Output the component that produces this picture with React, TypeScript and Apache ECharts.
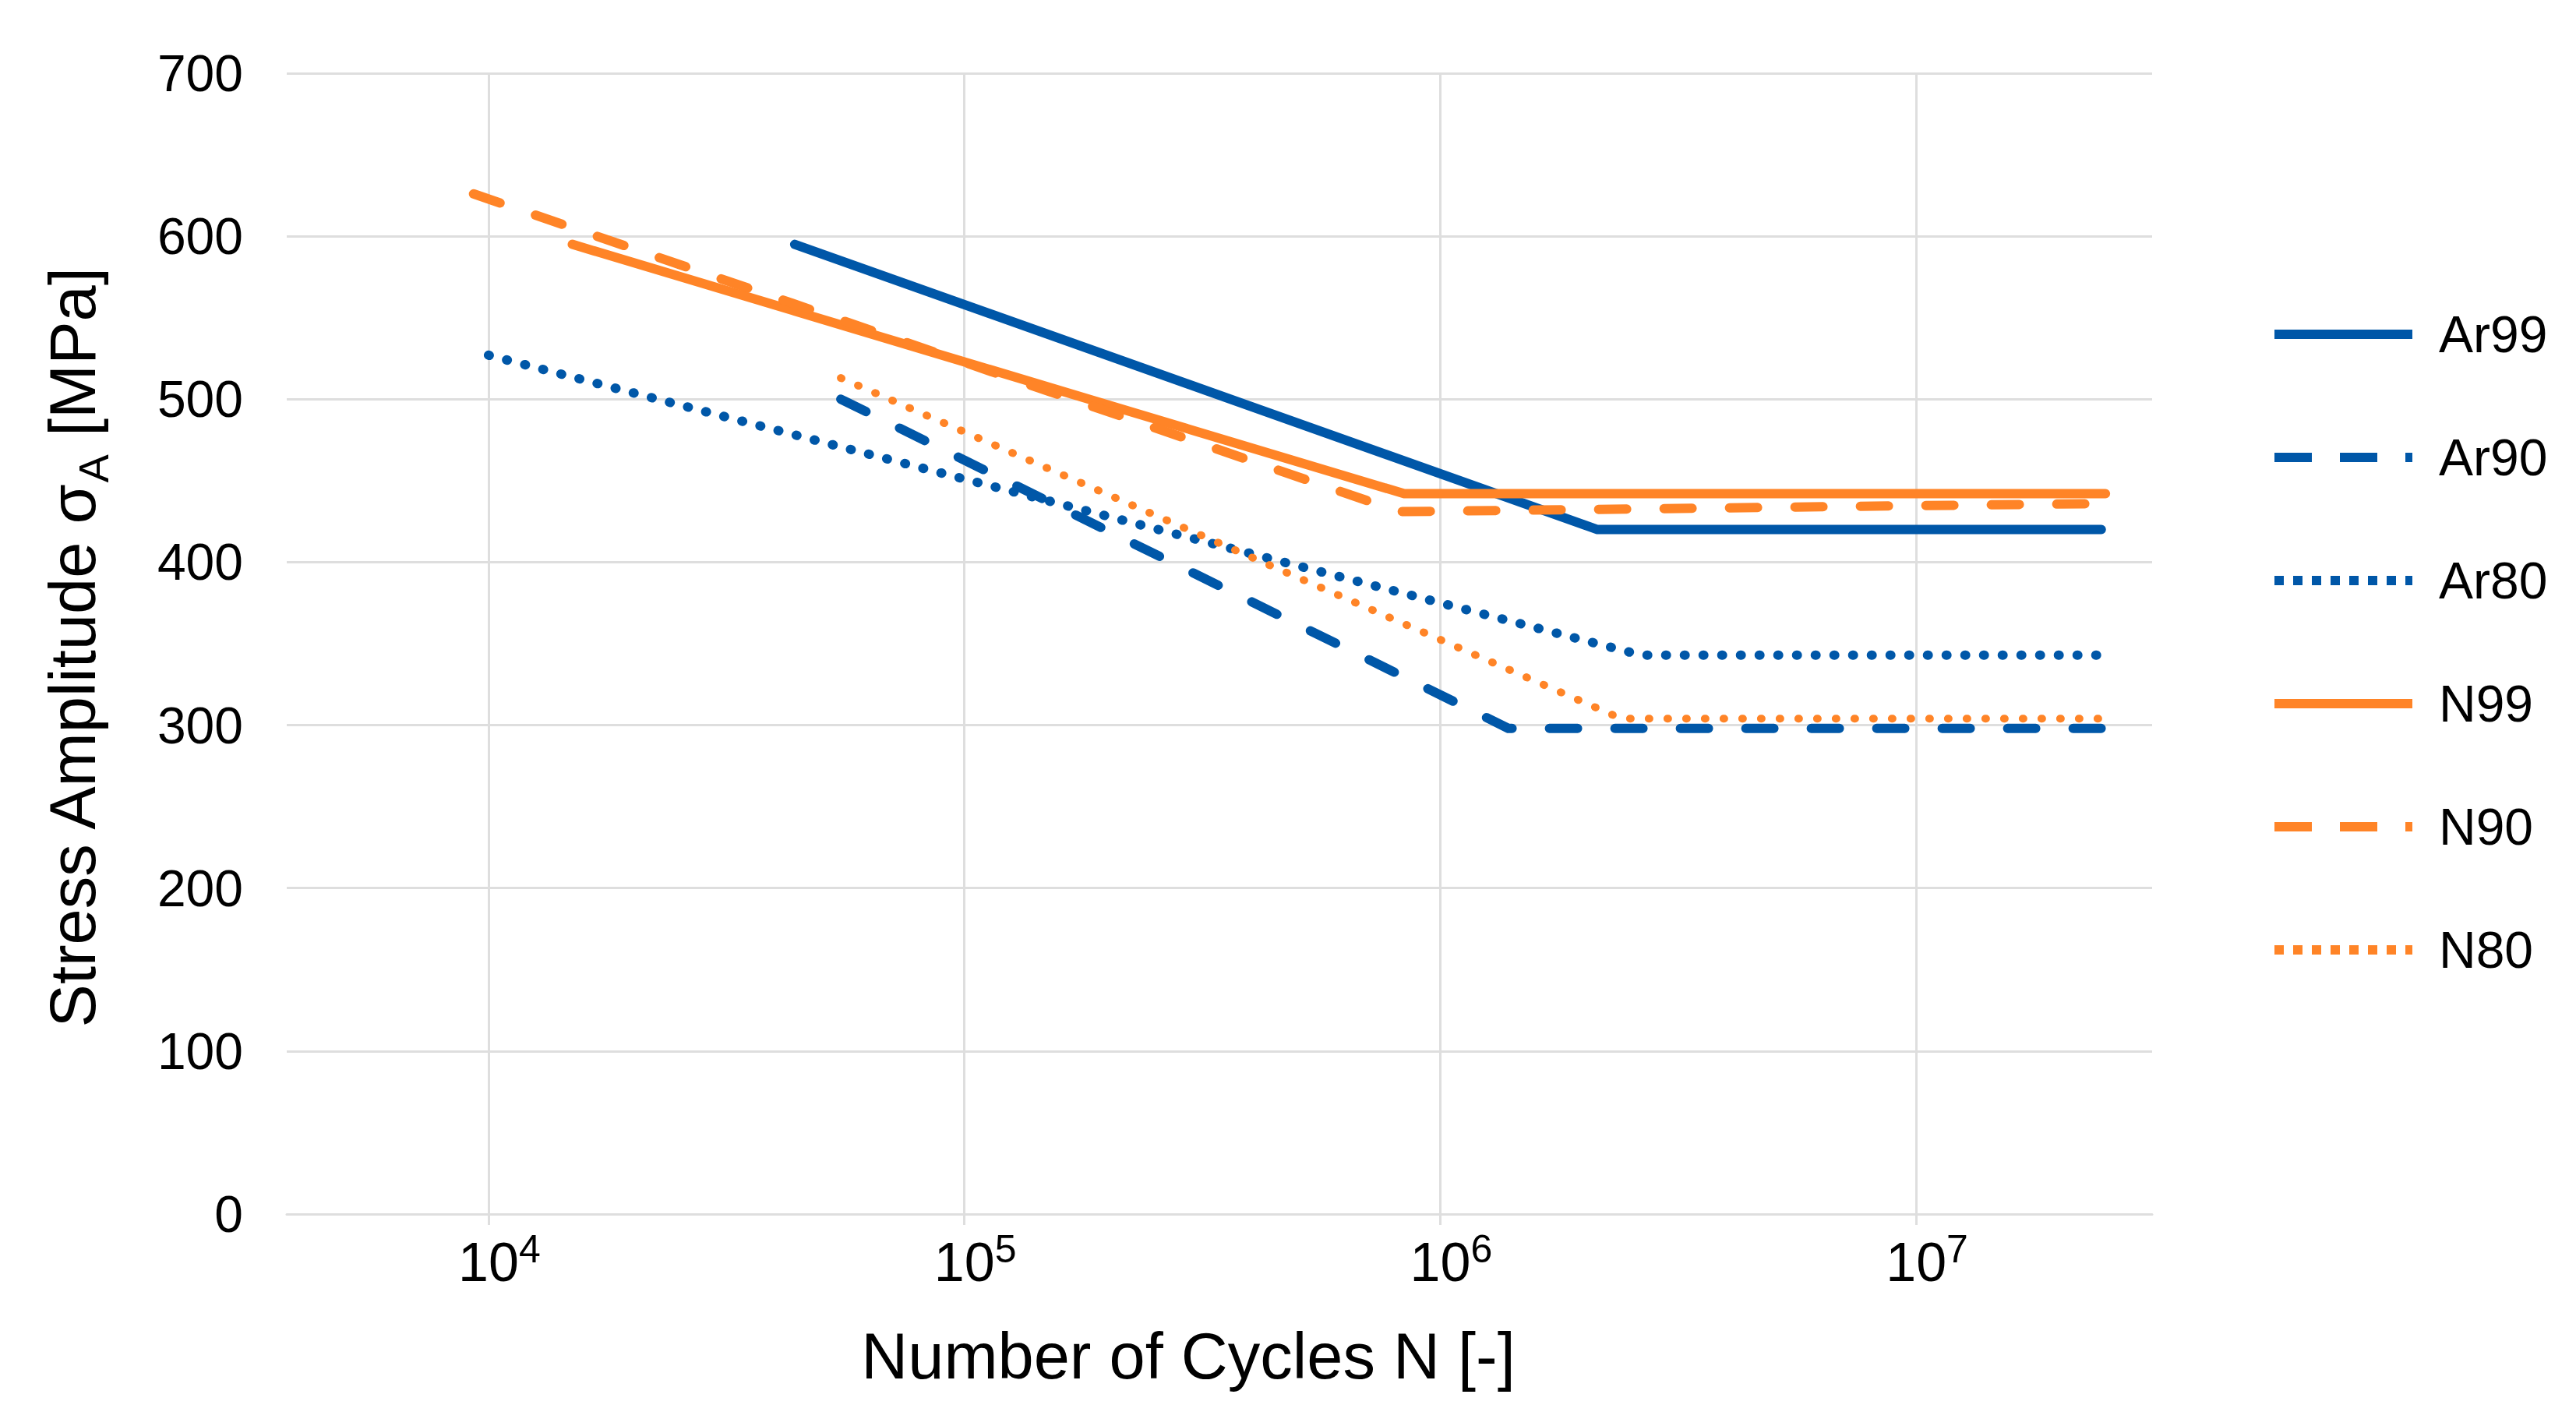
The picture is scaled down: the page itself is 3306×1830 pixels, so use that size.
import React, { useEffect, useRef } from "react";
import * as echarts from "echarts";

// ---- Data ----
const seriesNames = ["Ar99", "Ar90", "Ar80", "N99", "N90", "N80"];

const ar99N = [44000, 2140000, 24500000];
const ar99S = [595, 420, 420];

const ar90N = [55000, 1390000, 25000000];
const ar90S = [500, 298, 298];

const ar80N = [10000, 2640000, 25500000];
const ar80S = [527, 343, 343];

const n99N = [15000, 840000, 25000000];
const n99S = [595, 442, 442];

const n90N = [9300, 820000, 25000000];
const n90S = [626, 431, 436];

const n80N = [55000, 2400000, 25000000];
const n80S = [513, 304, 304];

const xTickValues = [10000, 100000, 1000000, 10000000];
const yTickMin = 0;
const yTickMax = 700;
const yTickStep = 100;

const BLUE = "#0057A8";
const ORANGE = "#FF8427";
const GRID_GRAY = "#DEDEDE";
const FONT = "Liberation Sans, Arial, sans-serif";

function zip(xs: number[], ys: number[]) {
  return xs.map((x, i) => [x, ys[i]]);
}

export default function App() {
  const ref = useRef<HTMLDivElement>(null);

  useEffect(() => {
    if (!ref.current) return;
    const chart = echarts.init(ref.current, undefined, { renderer: "svg" });

    const dashed = [36, 48];
    const dotted = [1, 23];
    const legendDash = [48, 36];
    const legendDot = [12, 12];

    const mk = (
      name: string,
      xs: number[],
      ys: number[],
      color: string,
      type: any,
      width: number
    ) => ({
      name,
      type: "line",
      data: zip(xs, ys),
      showSymbol: false,
      symbol: "none",
      lineStyle: { color, width, type, cap: "round", join: "round" },
      itemStyle: { color },
    });

    const legendTypes: any[] = ["solid", legendDash, legendDot, "solid", legendDash, legendDot];

    const option: any = {
      animation: false,
      backgroundColor: "#fff",
      grid: {
        left: 368,
        top: 94,
        width: 2394,
        height: 1464,
        containLabel: false,
        outerBoundsMode: "none",
      },
      xAxis: {
        type: "log",
        logBase: 10,
        min: 3767,
        max: 31330000,
        axisLine: { show: true, lineStyle: { color: GRID_GRAY, width: 3 } },
        axisTick: {
          show: true,
          length: 14,
          customValues: xTickValues,
          lineStyle: { color: GRID_GRAY, width: 3 },
        },
        splitLine: {
          show: true,
          lineStyle: { color: GRID_GRAY, width: 3 },
        },
        axisLabel: {
          customValues: xTickValues,
          margin: 27,
          formatter: (v: number) => {
            const e = Math.round(Math.log10(v));
            return "{b|10}{s|" + e + "}";
          },
          rich: {
            b: {
              fontSize: 70,
              lineHeight: 70,
              fontFamily: FONT,
              color: "#000",
              padding: [0, 0, 0, 28],
            },
            s: {
              fontSize: 50,
              lineHeight: 50,
              fontFamily: FONT,
              color: "#000",
              padding: [0, 0, 34, 0],
            },
          },
        },
      },
      yAxis: {
        type: "value",
        min: yTickMin,
        max: yTickMax,
        interval: yTickStep,
        axisLine: { show: false },
        axisTick: { show: false },
        splitLine: { show: true, lineStyle: { color: GRID_GRAY, width: 3 } },
        axisLabel: {
          fontSize: 66,
          fontFamily: FONT,
          color: "#000",
          margin: 56,
        },
      },
      legend: {
        orient: "vertical",
        left: 2913,
        top: 396,
        padding: 0,
        itemWidth: 177,
        itemHeight: 12,
        itemGap: 92,
        itemStyle: { opacity: 0 },
        data: seriesNames.map((name, i) => ({
          name,
          itemStyle: { opacity: 0 },
          lineStyle: { width: 12, type: legendTypes[i], cap: "butt" },
        })),
        textStyle: {
          fontSize: 66,
          lineHeight: 66,
          fontFamily: FONT,
          color: "#000",
          padding: [0, 0, 0, 29],
        },
      },
      graphic: [
        {
          type: "text",
          x: 93,
          y: 832,
          rotation: Math.PI / 2,
          style: {
            text: "{n|Stress Amplitude σ}{s|A}{n| [MPa]}",
            align: "center",
            verticalAlign: "middle",
            fill: "#000",
            rich: {
              n: { fontSize: 83, lineHeight: 83, fontFamily: FONT, fill: "#000" },
              s: {
                fontSize: 54,
                lineHeight: 54,
                fontFamily: FONT,
                fill: "#000",
                padding: [54, 0, 0, 0],
              },
            },
          },
        },
        {
          type: "text",
          x: 1525,
          y: 1740,
          style: {
            text: "Number of Cycles N [-]",
            align: "center",
            verticalAlign: "middle",
            fill: "#000",
            fontSize: 83,
            fontFamily: FONT,
          },
        },
      ],
      series: [
        mk("Ar99", ar99N, ar99S, BLUE, "solid", 12),
        mk("Ar90", ar90N, ar90S, BLUE, dashed, 12),
        mk("Ar80", ar80N, ar80S, BLUE, dotted, 12),
        mk("N99", n99N, n99S, ORANGE, "solid", 12),
        mk("N90", n90N, n90S, ORANGE, dashed, 12),
        mk("N80", n80N, n80S, ORANGE, dotted, 10),
      ],
    };

    chart.setOption(option);
    return () => chart.dispose();
  }, []);

  return (
    <div
      ref={ref}
      style={{ position: "fixed", left: 0, top: 0, width: 3306, height: 1830 }}
    />
  );
}
